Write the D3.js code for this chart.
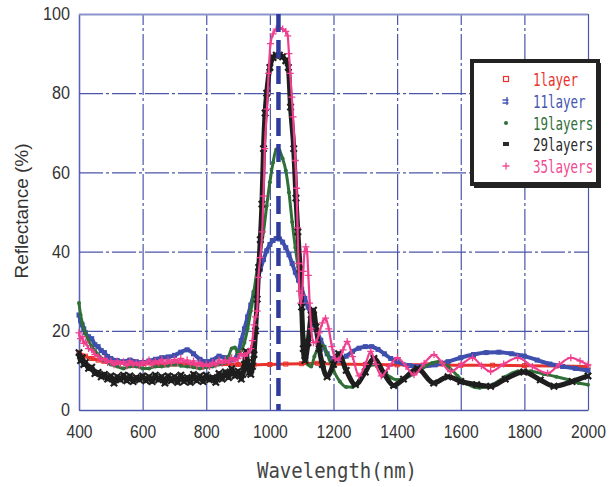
<!DOCTYPE html>
<html>
<head>
<meta charset="utf-8">
<script src="https://cdn.jsdelivr.net/npm/d3@7"></script>
<style>
  body { margin: 0; background: #fff; }
  svg { display: block; }
</style>
</head>
<body>
<svg id="chart" width="613" height="487"></svg>
<script>
// Axis ticks
const xTicks = [400, 600, 800, 1000, 1200, 1400, 1600, 1800, 2000];
const yTicks = [0, 20, 40, 60, 80, 100];

// Legend labels
const seriesNames = ["1layer", "11layer", "19layers", "29layers", "35layers"];

// Reflectance spectra: [wavelength (nm), reflectance (%)]
const layer1 = [[400,14.5],[420,13.6],[440,13],[460,12.6],[480,12.3],[500,12],[550,11.8],[600,11.7],[700,11.6],[800,11.5],[900,11.5],[950,11.4],[1000,11.5],[1050,11.6],[1100,11.7],[1150,11.8],[1200,11.6],[1300,11.5],[1400,11.4],[1500,11.4],[1600,11.3],[1700,11.3],[1800,11.2],[1900,11.1],[2000,11]];

const layer11 = [[400,24],[405,22.5],[410,21.5],[415,20.5],[420,19.5],[430,18.5],[440,18],[450,16.5],[460,16],[470,15],[480,14.5],[490,13.5],[500,13],[520,12.5],[540,12.2],[560,12.6],[580,12.2],[600,12],[620,12.4],[640,12.8],[660,13.2],[680,13.4],[700,13.8],[720,14.6],[740,15.2],[760,14.2],[780,12.8],[800,12.2],[820,12.6],[840,13.6],[860,13.2],[880,12.6],[900,14.5],[910,17.5],[920,20.5],[930,23.5],[940,26.5],[950,29.5],[960,32.5],[970,35.5],[980,38],[990,40.2],[1000,41.8],[1010,42.8],[1020,43.3],[1030,43.2],[1040,42.4],[1050,41],[1060,39.2],[1070,37],[1080,34.8],[1090,32.8],[1100,30.5],[1110,28.2],[1120,26],[1130,24],[1140,21.5],[1150,19.5],[1160,17.6],[1170,15.8],[1180,14.2],[1190,13],[1200,12.3],[1220,12.6],[1240,13.6],[1260,14.8],[1280,15.6],[1300,16],[1320,16],[1340,15.3],[1360,14.2],[1380,13],[1400,12.2],[1440,11.2],[1480,11],[1520,11.4],[1560,12.2],[1600,13.2],[1640,14],[1680,14.5],[1720,14.6],[1760,14.2],[1800,13.6],[1840,12.6],[1880,11.6],[1920,11],[1960,10.5],[2000,10]];

const layer19 = [[400,27],[405,24],[410,22],[420,19.5],[430,17.5],[440,16],[450,15],[460,14],[480,12.5],[500,11.5],[520,11],[540,10.5],[560,11],[580,11],[600,10.5],[620,10.5],[640,11],[660,11],[680,11.2],[700,11.5],[720,11.2],[740,11],[760,10.8],[780,10.5],[800,10.8],[820,11],[840,11.5],[860,12],[870,13.5],[880,15.5],[890,15.8],[900,14.2],[910,15],[920,17],[930,20.5],[940,25],[950,30],[960,35.5],[970,40],[980,45],[990,51.5],[1000,57.5],[1010,62.5],[1020,65.8],[1030,65.5],[1040,63.5],[1050,60.5],[1060,55],[1070,47.5],[1080,41],[1090,35],[1100,25.5],[1110,16.5],[1120,11.5],[1130,11],[1140,13.5],[1150,15.5],[1160,16.4],[1170,16],[1180,14.2],[1200,10],[1220,7.2],[1240,5.8],[1260,5.8],[1280,7.4],[1300,9.8],[1320,11.4],[1340,11.2],[1360,9.6],[1380,8.2],[1400,7.6],[1420,7.9],[1450,9],[1480,10.6],[1510,11.9],[1530,12.2],[1560,11],[1590,8.6],[1620,6.6],[1660,5.6],[1700,6.4],[1740,8.4],[1780,9.8],[1820,9.8],[1860,9.1],[1900,8.4],[1940,7.6],[1970,6.8],[2000,6.4]];

const layer29 = [[400,14.5],[405,12.5],[410,13.2],[415,11.5],[420,12],[430,10.5],[440,10.8],[450,9.2],[460,9.5],[470,8.4],[480,9],[490,7.8],[500,8.6],[510,6.8],[520,8.4],[530,7.6],[540,8.8],[550,7.4],[560,8.6],[570,7.2],[580,8.2],[590,7.6],[600,8.6],[610,7.4],[620,8.4],[630,7.2],[640,8.8],[650,7.6],[660,8.4],[670,6.8],[680,8.6],[690,7.4],[700,8.4],[710,7],[720,8.8],[730,7.2],[740,8.2],[750,7],[760,9],[770,7.4],[780,8.6],[790,7.2],[800,8.8],[810,7.6],[820,8.2],[830,7],[840,9.2],[850,7.8],[860,9.6],[870,8.2],[880,10.4],[890,8.6],[900,9.8],[910,7.8],[915,9],[920,11.5],[925,14.8],[930,12],[935,9.5],[940,9],[945,11],[950,14],[955,20],[960,28],[965,36],[970,43],[975,52],[980,66],[985,75],[990,80],[1000,86.5],[1010,89],[1020,89.6],[1030,89.6],[1040,89.2],[1050,88.2],[1058,86.5],[1065,76.5],[1075,66],[1082,53.5],[1088,45],[1095,35.5],[1100,26],[1105,15.5],[1110,12.5],[1120,17],[1130,24],[1137,25.2],[1145,21],[1155,15.5],[1165,11.5],[1180,8.4],[1200,11.5],[1216,14.2],[1240,10],[1269,6.4],[1300,9.6],[1327,13],[1360,9],[1389,6.2],[1420,7.8],[1464,10.4],[1515,6.8],[1560,8.4],[1600,7.2],[1650,6.4],[1694,6],[1740,7.8],[1798,9.6],[1850,7.6],[1893,6],[1950,7.2],[2000,8.6]];

const layer35 = [[400,19.5],[405,18],[410,18.5],[415,16.8],[420,17.2],[430,15.5],[440,15.2],[450,14],[460,13.6],[470,12.6],[480,13],[490,12],[500,12.4],[510,11.4],[520,12.4],[530,11.6],[540,12.2],[550,11.2],[560,12.4],[570,11.4],[580,12],[590,11.2],[600,12.2],[610,11.6],[620,12.6],[630,11.4],[640,12.4],[650,11.8],[660,12.8],[670,11.6],[680,12.6],[690,11.8],[700,12.8],[710,12],[720,13],[730,12],[740,12.6],[750,11.6],[760,12.4],[770,11.2],[780,12],[790,11],[800,11.6],[810,11],[820,12],[830,11.4],[840,12.6],[850,11.8],[860,12.6],[870,12],[880,13.2],[890,12.4],[900,13],[910,14.2],[920,13.6],[930,14.4],[940,15.5],[945,17.5],[950,21.5],[955,23.5],[960,25],[964,33.5],[970,38.5],[976,45],[980,54],[984,66],[991,76],[996,85],[1002,92.5],[1010,95],[1020,96.2],[1030,96.5],[1040,96.2],[1050,95.6],[1056,94.5],[1060,90],[1064,85],[1069,79],[1073,74],[1080,63],[1084,56],[1087,46],[1090,37],[1093,30],[1097,27],[1101,29],[1105,35],[1109,40],[1113,41.2],[1117,40],[1121,34],[1125,27],[1130,20.5],[1137,17],[1145,17.2],[1155,19.5],[1165,22],[1175,23.2],[1185,20.5],[1195,16],[1205,13],[1215,12.6],[1230,15.2],[1243,17.3],[1260,13.5],[1280,8.6],[1300,11.5],[1317,14.8],[1333,11.5],[1350,8.6],[1375,11],[1401,13.2],[1428,11],[1453,8.9],[1485,11.8],[1516,14],[1542,11.8],[1568,9.7],[1602,11.5],[1637,13.2],[1665,11.2],[1694,9.7],[1735,11.6],[1779,13.2],[1825,11],[1873,9.3],[1910,11.5],[1946,13.2],[1975,12.4],[2000,11.4]];

// Design wavelength marker
const designWavelength = [1027];

const seriesData = [layer1, layer11, layer19, layer29, layer35];
const seriesColors = ["#e8322b", "#3f4fae", "#2f7038", "#1e1e1e", "#ef3f8e"];
const legendColors = ["#e8322b", "#4656b0", "#2f7038", "#2a2a2a", "#ef4a92"];
const lineWidths = [3, 4, 3, 5, 2.2];

const svg = d3.select("#chart");
svg.append("rect").attr("width", 613).attr("height", 487).attr("fill", "#fff");

const plotLeft = 79, plotRight = 588, plotTop = 14, plotBottom = 410;
const x = d3.scaleLinear().domain([400, 2000]).range([plotLeft, plotRight]);
const y = d3.scaleLinear().domain([0, 100]).range([plotBottom, plotTop]);

const gridColor = "#4b56aa";
const tickFont = "'Liberation Sans', Arial, sans-serif";

// Vertical grid + x axis
const gx = svg.append("g")
  .attr("transform", `translate(0,${plotBottom})`)
  .call(d3.axisBottom(x).tickValues(xTicks).tickSize(-(plotBottom - plotTop)).tickSizeOuter(0).tickPadding(15).tickFormat(d3.format("d")));
gx.select(".domain").attr("stroke", "#5a64b4").attr("stroke-width", 1.4);
gx.selectAll(".tick line")
  .attr("stroke", gridColor).attr("stroke-width", 1.2)
  .attr("stroke-dasharray", d => (d === 400 || d === 2000) ? null : "26,3,3,3");
gx.selectAll(".tick text")
  .attr("fill", "#333").attr("font-size", 19).attr("font-family", tickFont)
  .attr("textLength", d => String(d).length * 8.7)
  .attr("lengthAdjust", "spacingAndGlyphs");

// Horizontal grid + y axis
const gy = svg.append("g")
  .attr("transform", `translate(${plotLeft},0)`)
  .call(d3.axisLeft(y).tickValues(yTicks).tickSize(-(plotRight - plotLeft)).tickSizeOuter(0).tickPadding(9).tickFormat(d3.format("d")));
gy.select(".domain").attr("stroke", "#5a64b4").attr("stroke-width", 1.4);
gy.selectAll(".tick line")
  .attr("stroke", d => d === 100 ? "#8c94cc" : gridColor)
  .attr("stroke-width", d => d === 100 ? 2 : 1.2)
  .attr("stroke-dasharray", d => (d === 0 || d === 100) ? null : "24,3,3,3");
gy.selectAll(".tick text")
  .attr("fill", "#333").attr("font-size", 18).attr("font-family", tickFont)
  .attr("textLength", d => String(d).length * 9)
  .attr("lengthAdjust", "spacingAndGlyphs");

// Spectra
const line = d3.line().x(d => x(d[0])).y(d => y(d[1])).curve(d3.curveMonotoneX);
const plot = svg.append("g");

function drawMarkers(g, data, i) {
  const pts = g.selectAll("g.pt").data(data).join("g")
    .attr("class", "pt")
    .attr("transform", d => `translate(${x(d[0])},${y(d[1])})`);
  const c = seriesColors[i];
  if (i === 0) {
    pts.append("rect").attr("x", -2).attr("y", -2).attr("width", 4).attr("height", 4)
      .attr("fill", "none").attr("stroke", c).attr("stroke-width", 1);
  } else if (i === 1) {
    pts.append("rect").attr("x", -2.5).attr("y", -2.5).attr("width", 5).attr("height", 5).attr("fill", c);
  } else if (i === 2) {
    pts.append("circle").attr("r", 2).attr("fill", c);
  } else if (i === 3) {
    pts.append("path").attr("d", d3.symbol().type(d3.symbolTimes).size(28))
      .attr("stroke", c).attr("stroke-width", 2.2).attr("fill", "none");
  } else {
    pts.append("path").attr("d", "M-3.5,0H3.5M0,-3.5V3.5")
      .attr("stroke", c).attr("stroke-width", 1.3).attr("fill", "none");
  }
}

seriesData.forEach((data, i) => {
  const g = plot.append("g");
  g.append("path").datum(data)
    .attr("d", line)
    .attr("fill", "none")
    .attr("stroke", seriesColors[i])
    .attr("stroke-width", lineWidths[i])
    .attr("stroke-linejoin", "round");
  drawMarkers(g, data, i);
});

// Design wavelength dashed line
svg.append("g").selectAll("line").data(designWavelength).join("line")
  .attr("x1", d => x(d)).attr("x2", d => x(d))
  .attr("y1", plotTop).attr("y2", plotBottom)
  .attr("stroke", "#2f3c9c").attr("stroke-width", 4.5)
  .attr("stroke-dasharray", "18,8");

// Axis titles
svg.append("text")
  .attr("transform", "translate(28,211) rotate(-90)")
  .attr("text-anchor", "middle")
  .attr("font-family", tickFont).attr("font-size", 19).attr("fill", "#333")
  .text("Reflectance (%)");

svg.append("text")
  .attr("x", 257).attr("y", 478)
  .attr("font-family", "'DejaVu Sans Mono', monospace").attr("font-size", 21).attr("fill", "#444")
  .attr("textLength", 160).attr("lengthAdjust", "spacingAndGlyphs")
  .text("Wavelength(nm)");

// Legend
const lg = svg.append("g");
lg.append("rect").attr("x", 474).attr("y", 63).attr("width", 127).attr("height", 125).attr("fill", "#222");
lg.append("rect").attr("x", 472).attr("y", 61).attr("width", 126).attr("height", 123)
  .attr("fill", "#fff").attr("stroke", "#222").attr("stroke-width", 4);

const legendY = [79, 101, 123, 144, 166];
const legendFontSize = 17;
const legendCharWidth = 7.5;                          // condensed monospace cell
const legendScaleX = legendCharWidth / (0.6 * legendFontSize);

const items = lg.selectAll("g.item").data(seriesNames).join("g")
  .attr("class", "item")
  .attr("transform", (d, i) => `translate(506,${legendY[i]})`);
items.each(function(name, i) {
  const g = d3.select(this);
  const c = legendColors[i];
  if (i === 0) {
    g.append("rect").attr("x", -2.5).attr("y", -2.5).attr("width", 5).attr("height", 5)
      .attr("fill", "none").attr("stroke", c).attr("stroke-width", 1.2);
  } else if (i === 1) {
    g.append("path").attr("d", "M-3.5,-1H2.5M-3.5,2H2.5M1,-4V4").attr("stroke", c).attr("stroke-width", 1.4).attr("fill", "none");
  } else if (i === 2) {
    g.append("circle").attr("r", 2).attr("fill", c);
  } else if (i === 3) {
    g.append("rect").attr("x", -3).attr("y", -2).attr("width", 6).attr("height", 4).attr("fill", c);
  } else {
    g.append("path").attr("d", "M-3.5,0H3.5M0,-3.5V3.5").attr("stroke", c).attr("stroke-width", 1.3);
  }
  g.append("text")
    .attr("transform", `translate(27,7) scale(${legendScaleX},1)`)
    .attr("font-family", "'DejaVu Sans Mono', monospace").attr("font-size", legendFontSize)
    .attr("fill", c)
    .text(name);
});
</script>
</body>
</html>
